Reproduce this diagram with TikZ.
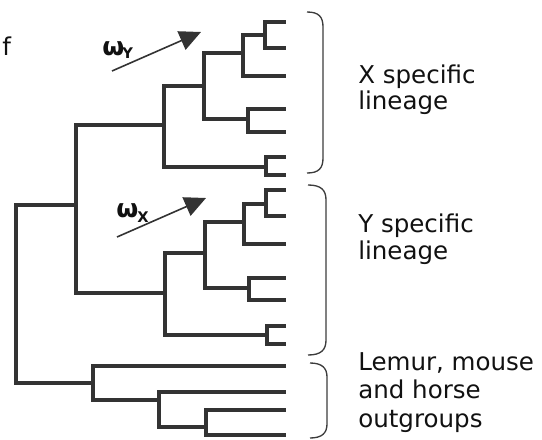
\documentclass[tikz,border=0pt]{standalone}
\usepackage{fontspec}
\setmainfont{DejaVu Sans}
\usetikzlibrary{arrows.meta}
\definecolor{treecol}{HTML}{333333}
\definecolor{bracecol}{HTML}{3C3C3C}
\definecolor{txtcol}{HTML}{111111}
\begin{document}
\begin{tikzpicture}[x=0.75pt,y=-0.75pt,
  branch/.style={draw=treecol,line width=3.7pt,line join=miter},
  bracket/.style={draw=bracecol,line width=1pt},
  lbl/.style={anchor=base west,inner sep=0pt,text=txtcol,font=\fontsize{18.4}{20}\selectfont},
  omega/.style={anchor=base west,inner sep=0pt,text=txtcol,font=\bfseries\fontsize{19}{20}\selectfont},
  subl/.style={anchor=base west,inner sep=0pt,text=txtcol,font=\bfseries\fontsize{11}{12}\selectfont},
  rate/.style={draw=treecol,line width=1.2pt,-{Triangle[length=16pt,width=15pt]}}]
\useasboundingbox (0,0) rectangle (542,439);
% leaves
\coordinate (X1) at (286,22);  \coordinate (X2) at (286,48);
\coordinate (X3) at (286,76);  \coordinate (X4) at (286,109);
\coordinate (X5) at (286,132); \coordinate (X6) at (286,157);
\coordinate (X7) at (286,175);
\coordinate (Y1) at (286,190); \coordinate (Y2) at (286,216);
\coordinate (Y3) at (286,244); \coordinate (Y4) at (286,278);
\coordinate (Y5) at (286,300); \coordinate (Y6) at (286,326);
\coordinate (Y7) at (286,344);
\coordinate (O1) at (286,366); \coordinate (O2) at (286,392);
\coordinate (O3) at (286,410); \coordinate (O4) at (286,435);
% internal nodes
\coordinate (nXa) at (265,35);  \coordinate (nXb) at (243,53);
\coordinate (nXc) at (248,119); \coordinate (nXd) at (204,86);
\coordinate (nXe) at (266,167); \coordinate (nXf) at (164,125);
\coordinate (nYa) at (266,204); \coordinate (nYb) at (244,222);
\coordinate (nYc) at (249,288); \coordinate (nYd) at (205,253);
\coordinate (nYe) at (267,335); \coordinate (nYf) at (165,293);
\coordinate (nXY) at (76,205);  \coordinate (root) at (16,294);
\coordinate (nOa) at (93,383);  \coordinate (nOb) at (159,400);
\coordinate (nOc) at (206,427);
% branches
\foreach \p/\c in {nXa/X1,nXa/X2,nXb/nXa,nXb/X3,nXc/X4,nXc/X5,nXd/nXb,nXd/nXc,
  nXe/X6,nXe/X7,nXf/nXd,nXf/nXe,
  nYa/Y1,nYa/Y2,nYb/nYa,nYb/Y3,nYc/Y4,nYc/Y5,nYd/nYb,nYd/nYc,
  nYe/Y6,nYe/Y7,nYf/nYd,nYf/nYe,
  nXY/nXf,nXY/nYf,root/nXY,root/nOa,
  nOa/O1,nOa/nOb,nOb/O2,nOb/nOc,nOc/O3,nOc/O4}
  \draw[branch] (\p) |- (\c);
% brackets
\draw[bracket] (307,12) .. controls (319,12) and (323,17) .. (323,27) -- (323,158)
  .. controls (323,168) and (319,173) .. (307,173);
\draw[bracket] (308,185) .. controls (321,185) and (326,190) .. (326,200) -- (326,340)
  .. controls (326,350) and (321,355) .. (308,355);
\draw[bracket] (310,363) .. controls (322,363) and (327,368) .. (327,377) -- (327,424)
  .. controls (327,433) and (322,438) .. (310,438);
% labels
\node[lbl] (f) at (2,55) {f};
\node[lbl] (xs1) at (358,83) {X specific};
\node[lbl] (xs2) at (358,109) {lineage};
\node[lbl] (ys1) at (358,232) {Y specific};
\node[lbl] (ys2) at (358,259) {lineage};
\node[lbl] (os1) at (358,370) {Lemur, mouse};
\node[lbl] (os2) at (358,398) {and horse};
\node[lbl] (os3) at (358,427) {outgroups};
% omega rates
\node[omega] (wY) at (102,55) {ω};
\node[subl] (wYs) at (122,58) {Y};
\coordinate (aYs) at (112,71); \coordinate (aYe) at (201,32);
\draw[rate] (aYs) -- (aYe);
\node[omega] (wX) at (116,217) {ω};
\node[subl] (wXs) at (137,222) {X};
\coordinate (aXs) at (117,237); \coordinate (aXe) at (206,198);
\draw[rate] (aXs) -- (aXe);
\end{tikzpicture}
\end{document}
